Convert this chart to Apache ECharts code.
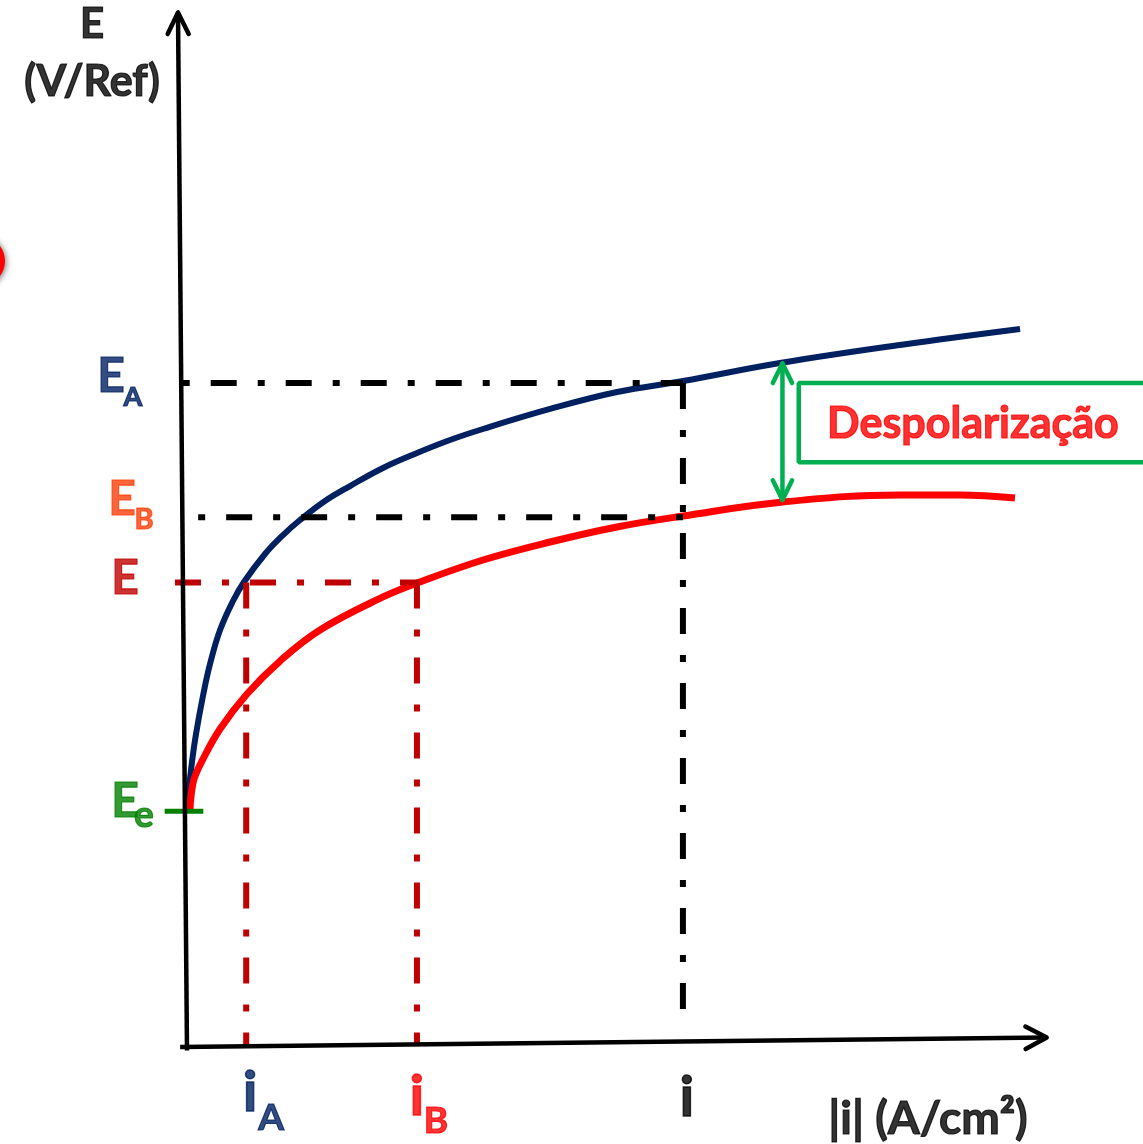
<!DOCTYPE html>
<html>
<head>
<meta charset="utf-8">
<script src="https://cdn.jsdelivr.net/npm/echarts@6/dist/echarts.min.js"></script>
<style>
html,body{margin:0;padding:0;background:#fff;}
#chart{width:1143px;height:1144px;}
</style>
</head>
<body>
<div id="chart"></div>
<script>
// ---------- data ----------
// x = |i| (arbitrary units, 0..10), y = E (arbitrary units, 0..12)
const curveA_i = [0.000,0.023,0.058,0.105,0.186,0.268,0.385,0.536,0.664,0.909,1.119,1.317,1.608,1.900,2.284,2.681,3.065,3.450,4.231,5.012,5.781,6.911,8.310,9.709];
const curveA_E = [2.756,3.000,3.314,3.640,4.081,4.453,4.849,5.186,5.407,5.733,5.953,6.128,6.349,6.523,6.733,6.907,7.058,7.186,7.419,7.616,7.744,7.953,8.163,8.349];
const curveB_i = [0.035,0.047,0.082,0.175,0.385,0.699,1.084,1.550,2.284,2.681,3.450,4.231,5.012,5.781,6.946,8.310,9.009,9.650];
const curveB_E = [2.756,2.919,3.116,3.326,3.698,4.105,4.488,4.849,5.233,5.395,5.663,5.872,6.047,6.174,6.337,6.419,6.419,6.384];

const potentialNames  = ['E', 'E', 'E', 'E'];
const potentialSubs   = ['A', 'B', '', 'e'];
const potentialValues = [7.72, 6.16, 5.40, 2.74];   // E_A, E_B, E, E_e
const currentNames  = ['i', 'i', 'i'];
const currentSubs   = ['A', 'B', ''];
const currentValues = [0.69, 2.68, 5.78];           // i_A, i_B, i
const depolarization = [7.95, 6.36];                // arrow ends (E on curve A / curve B)
const depolCurrent = 6.94;
const axisTitles = ['E', '(V/Ref)', '|i| (A/cm²)'];
const boxText = 'Despolarização';

// ---------- layout ----------
const W = 1143, H = 1144;
const PLOT = {left:187, right:98, top:15, bottom:97};   // where the drawn axes sit
const X_MAX = 10, Y_MAX = 12;
const PX_X = (W - PLOT.left - PLOT.right) / X_MAX;
const PX_Y = (H - PLOT.top - PLOT.bottom) / Y_MAX;
const X_MIN_V = -PLOT.left / PX_X, X_MAX_V = X_MAX + PLOT.right / PX_X;
const Y_MIN_V = -PLOT.bottom / PX_Y, Y_MAX_V = Y_MAX + PLOT.top / PX_Y;
const FONT = 'Lato, Calibri, "Open Sans", sans-serif';

const NAVY = '#002060', RED = '#FF0000', DARKRED = '#C00000', ORANGE = '#FF3F0A',
      GREEN = '#008000', LGREEN = '#00B050';

const zip = (a, b) => a.map((v, k) => [v, b[k]]);

function seg(points, color, width, dash, extra) {
  return Object.assign({
    type: 'line', data: points, showSymbol: false, symbol: 'none', silent: true,
    animation: false,
    lineStyle: {color: color, width: width, type: dash || 'solid', cap: 'butt'}
  }, extra || {});
}

// chevron at tip, pointing away from 'from'
function chevron(tip, from, lenPx, angDeg) {
  const dx = (tip[0] - from[0]) * PX_X, dy = (tip[1] - from[1]) * PX_Y;
  const n = Math.hypot(dx, dy);
  const ux = -dx / n, uy = -dy / n;
  const a = angDeg * Math.PI / 180;
  const arm = s => {
    const rx = ux * Math.cos(s * a) - uy * Math.sin(s * a);
    const ry = ux * Math.sin(s * a) + uy * Math.cos(s * a);
    return [tip[0] + rx * lenPx / PX_X, tip[1] + ry * lenPx / PX_Y];
  };
  return [arm(1), tip, arm(-1)];
}
const roundStyle = (c, w) => ({lineStyle: {color: c, width: w, cap: 'round', join: 'round'}});

const DASHDOT = [26, 21, 7, 21];
const DOTDASH = [7, 21, 26, 21];

const [EA, EB, E, Ee] = potentialValues;
const [iA, iB, iC] = currentValues;

const series = [];
// curves
series.push(seg(zip(curveA_i, curveA_E), NAVY, 6, 'solid', {smooth: 0.4}));
series.push(seg(zip(curveB_i, curveB_E), RED, 7, 'solid', {smooth: 0.4}));

// construction lines
series.push(seg([[-0.05, EA], [iC, EA]], '#000', 6, DOTDASH));
series.push(seg([[0.13, EB], [iC, EB]], '#000', 6, DOTDASH));
series.push(seg([[iC, EA], [iC, 0.29]], '#000', 6, DASHDOT));
series.push(seg([[-0.14, E], [iB + 0.03, E]], DARKRED, 6, DASHDOT));
series.push(seg([[iA, E], [iA, 0.02]], DARKRED, 6, DASHDOT));
series.push(seg([[iB, E], [iB, 0.02]], DARKRED, 6, DASHDOT));

// E_e tick
series.push(seg([[-0.26, Ee], [0.19, Ee]], GREEN, 5));

// axes (hand-drawn, slightly tilted)
const yAxisFrom = [0, -0.04], yAxisTip = [-0.105, 12.03];
const xAxisFrom = [-0.08, 0], xAxisTip = [10.02, 0.11];
series.push(seg([yAxisFrom, yAxisTip], '#000', 4.5));
series.push(seg([xAxisFrom, xAxisTip], '#000', 4.5));
series.push(seg(chevron(yAxisTip, yAxisFrom, 24, 26), '#000', 4.5, 'solid', roundStyle('#000', 4.5)));
series.push(seg(chevron(xAxisTip, xAxisFrom, 24, 28), '#000', 4.5, 'solid', roundStyle('#000', 4.5)));

// depolarization arrow
const dTop = [depolCurrent, depolarization[0]], dBot = [depolCurrent, depolarization[1]];
series.push(seg([dTop, dBot], LGREEN, 4.5));
series.push(seg(chevron(dTop, dBot, 22, 26), LGREEN, 4.5, 'solid', roundStyle(LGREEN, 4.5)));
series.push(seg(chevron(dBot, dTop, 22, 26), LGREEN, 4.5, 'solid', roundStyle(LGREEN, 4.5)));
// box (open to the right, runs off the page)
series.push(seg([[X_MAX_V + 0.2, 7.72], [7.13, 7.72], [7.13, 6.80], [X_MAX_V + 0.2, 6.80]], LGREEN, 4.5));

// ---------- text ----------
function txt(pt, text, color, size, dx, dy, bw) {
  return {
    value: pt,
    label: {show: true, formatter: text, color: color, fontSize: size, fontWeight: 'bold',
      fontFamily: FONT, position: 'inside', align: 'center', verticalAlign: 'middle', offset: [dx, dy],
      textBorderColor: color, textBorderWidth: bw == null ? 1.2 : bw}
  };
}
const labels = [];
const eColors = [NAVY, ORANGE, DARKRED, GREEN];
const eMain = [[-76, -7], [-65, -18], [-62, -4], [-62, -10]];
const eSub  = [[-54, 14], [-43, 2], [0, 0], [-43, 4]];
const eSubSize = [27, 29, 0, 37];
potentialValues.forEach((v, k) => {
  labels.push(txt([0, v], potentialNames[k], eColors[k], 48, eMain[k][0], eMain[k][1]));
  if (potentialSubs[k]) labels.push(txt([0, v], potentialSubs[k], eColors[k], eSubSize[k], eSub[k][0], eSub[k][1]));
});
const iColors = [NAVY, RED, '#000'];
const iMain = [[4, 46], [0, 50], [4, 51]];
const iSub = [[25, 71], [19, 74], [0, 0]];
currentValues.forEach((v, k) => {
  labels.push(txt([v, 0], currentNames[k], iColors[k], 56, iMain[k][0], iMain[k][1], 1.6));
  if (currentSubs[k]) labels.push(txt([v, 0], currentSubs[k], iColors[k], 37, iSub[k][0], iSub[k][1]));
});
labels.push(txt([0, Y_MAX], axisTitles[0], '#000', 42, -95, 9));
labels.push(txt([0, Y_MAX], axisTitles[1], '#000', 43, -95, 67));
labels.push(txt([X_MAX, 0], axisTitles[2], '#000', 46, -117, 72));
labels.push(txt([9.16, 7.26], boxText, RED, 43, 0, 1));

series.push({type: 'scatter', data: labels, symbolSize: 0, silent: true, animation: false, z: 10,
  itemStyle: {color: 'rgba(0,0,0,0)'}});

const chart = echarts.init(document.getElementById('chart'), null, {renderer: 'canvas'});
chart.setOption({
  backgroundColor: '#fff',
  animation: false,
  grid: {left: 0, right: 0, top: 0, bottom: 0},
  xAxis: {type: 'value', min: X_MIN_V, max: X_MAX_V, show: false},
  yAxis: {type: 'value', min: Y_MIN_V, max: Y_MAX_V, show: false},
  graphic: [{
    type: 'circle', shape: {cx: -20, cy: 261, r: 25},
    style: {fill: '#FF0000', shadowBlur: 6, shadowColor: 'rgba(0,0,0,0.55)', shadowOffsetX: 1, shadowOffsetY: 1}
  }],
  series: series
});
</script>
</body>
</html>
